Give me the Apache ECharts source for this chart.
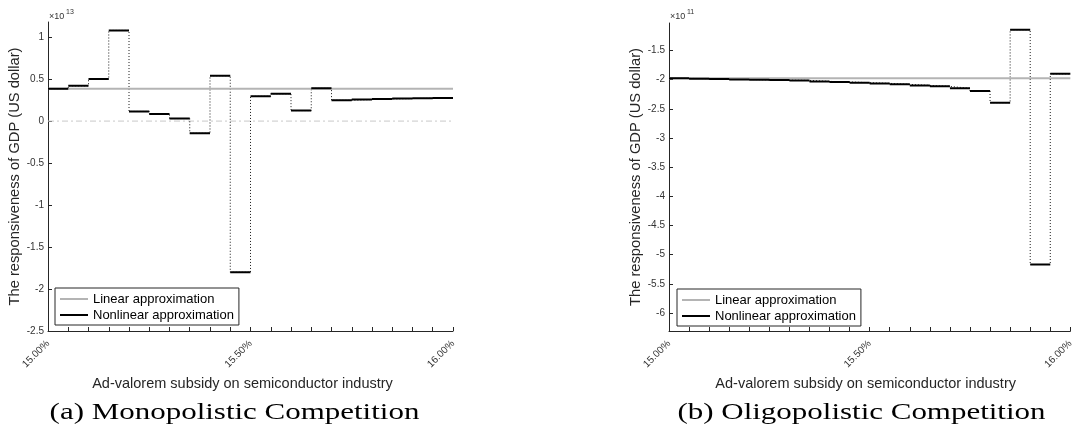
<!DOCTYPE html>
<html>
<head>
<meta charset="utf-8">
<script src="https://cdn.jsdelivr.net/npm/echarts@6/dist/echarts.min.js"></script>
<style>
html,body{margin:0;padding:0;background:#fff;}
#chart{width:1076px;height:427px;}
</style>
</head>
<body>
<div id="chart"></div>
<script>
// ---- data ----
// step edges (subsidy rate, %)
const xEdges = [15.00,15.05,15.10,15.15,15.20,15.25,15.30,15.35,15.40,15.45,15.50,15.55,15.60,15.65,15.70,15.75,15.80,15.85,15.90,15.95,16.00];
const xLabels = [15.00, 15.50, 16.00];
// (a) Monopolistic competition, units of 1e13 US$
const nonlinearA = [0.385,0.42,0.50,1.08,0.115,0.085,0.03,-0.145,0.54,-1.80,0.295,0.325,0.125,0.39,0.248,0.256,0.263,0.268,0.272,0.275];
const linearA = [0.385, 0.385];
const yTicksA = [-2.5,-2,-1.5,-1,-0.5,0,0.5,1];
// (b) Oligopolistic competition, units of 1e11 US$
const nonlinearB = [-1.978,-1.985,-1.99,-1.998,-2.004,-2.009,-2.014,-2.031,-2.04,-2.053,-2.065,-2.082,-2.10,-2.116,-2.15,-2.197,-2.396,-1.146,-5.17,-1.90];
const linearB = [-1.975, -1.975];
const yTicksB = [-6,-5.5,-5,-4.5,-4,-3.5,-3,-2.5,-2,-1.5];

const FONT = "'Liberation Sans', Arial, Helvetica, sans-serif";
const SERIF = "'Liberation Serif','Times New Roman',serif";
const AX = '#262626';

function segs(vals){
  const out=[];
  for(let k=0;k<vals.length;k++){
    out.push([xEdges[k],vals[k]]);
    out.push([xEdges[k+1],vals[k]]);
    out.push([xEdges[k+1],'-']);
  }
  return out;
}
function stairs(vals){
  const out=[];
  for(let k=0;k<vals.length;k++) out.push([xEdges[k],vals[k]]);
  out.push([xEdges[vals.length], vals[vals.length-1]]);
  return out;
}
function xAx(i,padR){
  return {
    type:'value', gridIndex:i, min:15, max:16, interval:0.05,
    axisLine:{show:true,onZero:false,lineStyle:{color:AX,width:1}},
    axisTick:{show:true,inside:true,length:4,lineStyle:{color:AX}},
    axisLabel:{customValues:xLabels,rotate:45,fontSize:10,color:'#333',margin:11,fontFamily:FONT,
      formatter:v=>v.toFixed(2)+'%'},
    splitLine:{show:false},
    name:'Ad-valorem subsidy on semiconductor industry',
    nameLocation:'middle', nameGap:40,
    nameTextStyle:{fontSize:14.5,color:'#262626',fontFamily:FONT,padding:[0,padR,0,0]}
  };
}
function yAx(i,min,max,ticks,gap){
  return {
    type:'value', gridIndex:i, min:min, max:max,
    axisLine:{show:true,onZero:false,lineStyle:{color:AX,width:1}},
    axisTick:{show:true,inside:true,length:4,customValues:ticks,lineStyle:{color:AX}},
    axisLabel:{customValues:ticks,fontSize:10,color:'#333',margin:4,fontFamily:FONT},
    splitLine:{show:false},
    name:'The responsiveness of GDP (US dollar)',
    nameLocation:'middle', nameGap:gap, nameRotate:90,
    nameTextStyle:{fontSize:14.7,color:'#262626',fontFamily:FONT}
  };
}
function panelSeries(i,nonlin,lin,zero){
  const s=[];
  if(zero){
    s.push({type:'line',xAxisIndex:i,yAxisIndex:i,silent:true,symbol:'none',
      data:[[15,0],[16,0]],lineStyle:{color:'#c8c8c8',width:1,type:[6,3,2,3]},z:1});
  }
  s.push({type:'line',xAxisIndex:i,yAxisIndex:i,silent:true,symbol:'none',step:'end',
    data:stairs(nonlin),lineStyle:{color:'#1a1a1a',width:1,type:[1,2]},z:2});
  s.push({name:'Linear approximation',type:'line',xAxisIndex:i,yAxisIndex:i,symbol:'none',
    data:[[15,lin[0]],[16,lin[1]]],lineStyle:{color:'#b4b4b4',width:2},itemStyle:{color:'#b4b4b4'},z:3});
  s.push({name:'Nonlinear approximation',type:'line',xAxisIndex:i,yAxisIndex:i,symbol:'none',
    connectNulls:false,data:segs(nonlin),lineStyle:{color:'#000',width:2},itemStyle:{color:'#000'},z:4});
  return s;
}
function legend(left,top){
  return {
    orient:'vertical', left:left, top:top,
    data:['Linear approximation','Nonlinear approximation'],
    icon:'path://M0,0 L28,0 L28,2 L0,2 Z', symbolKeepAspect:true,
    backgroundColor:'#fff', borderColor:'#262626', borderWidth:1,
    padding:[3,5,2,5], itemWidth:28, itemHeight:16, itemGap:0,
    textStyle:{fontSize:13,lineHeight:16,color:'#000',fontFamily:FONT}, selectedMode:false
  };
}
const chart = echarts.init(document.getElementById('chart'),null,{renderer:'canvas'});
chart.setOption({
  animation:false,
  textStyle:{fontFamily:FONT},
  grid:[{left:48,top:22,width:405,height:309},{left:669,top:23,width:406,height:308}],
  xAxis:[xAx(0,16),xAx(1,8)],
  yAxis:[yAx(0,-2.5,1.18,yTicksA,26),yAx(1,-6.31,-1.03,yTicksB,25)],
  legend:[legend(55,288),legend(677,289)],
  series:[].concat(panelSeries(0,nonlinearA,linearA,true),panelSeries(1,nonlinearB,linearB,false)),
  graphic:[
    {type:'text',left:49,top:12,style:{text:'×10',fontSize:9,fill:'#333',fontFamily:FONT}},
    {type:'text',left:66,top:9,style:{text:'13',fontSize:7,fill:'#333',fontFamily:FONT}},
    {type:'text',left:670,top:12,style:{text:'×10',fontSize:9,fill:'#333',fontFamily:FONT}},
    {type:'text',left:687,top:9,style:{text:'11',fontSize:7,fill:'#333',fontFamily:FONT}},
    {type:'text',x:234.5,y:413,scaleX:1.29,style:{text:'(a) Monopolistic Competition',fontSize:24,fill:'#000',
      fontFamily:SERIF,align:'center',verticalAlign:'middle'}},
    {type:'text',x:861.5,y:413,scaleX:1.29,style:{text:'(b) Oligopolistic Competition',fontSize:24,fill:'#000',
      fontFamily:SERIF,align:'center',verticalAlign:'middle'}}
  ]
});
</script>
</body>
</html>
